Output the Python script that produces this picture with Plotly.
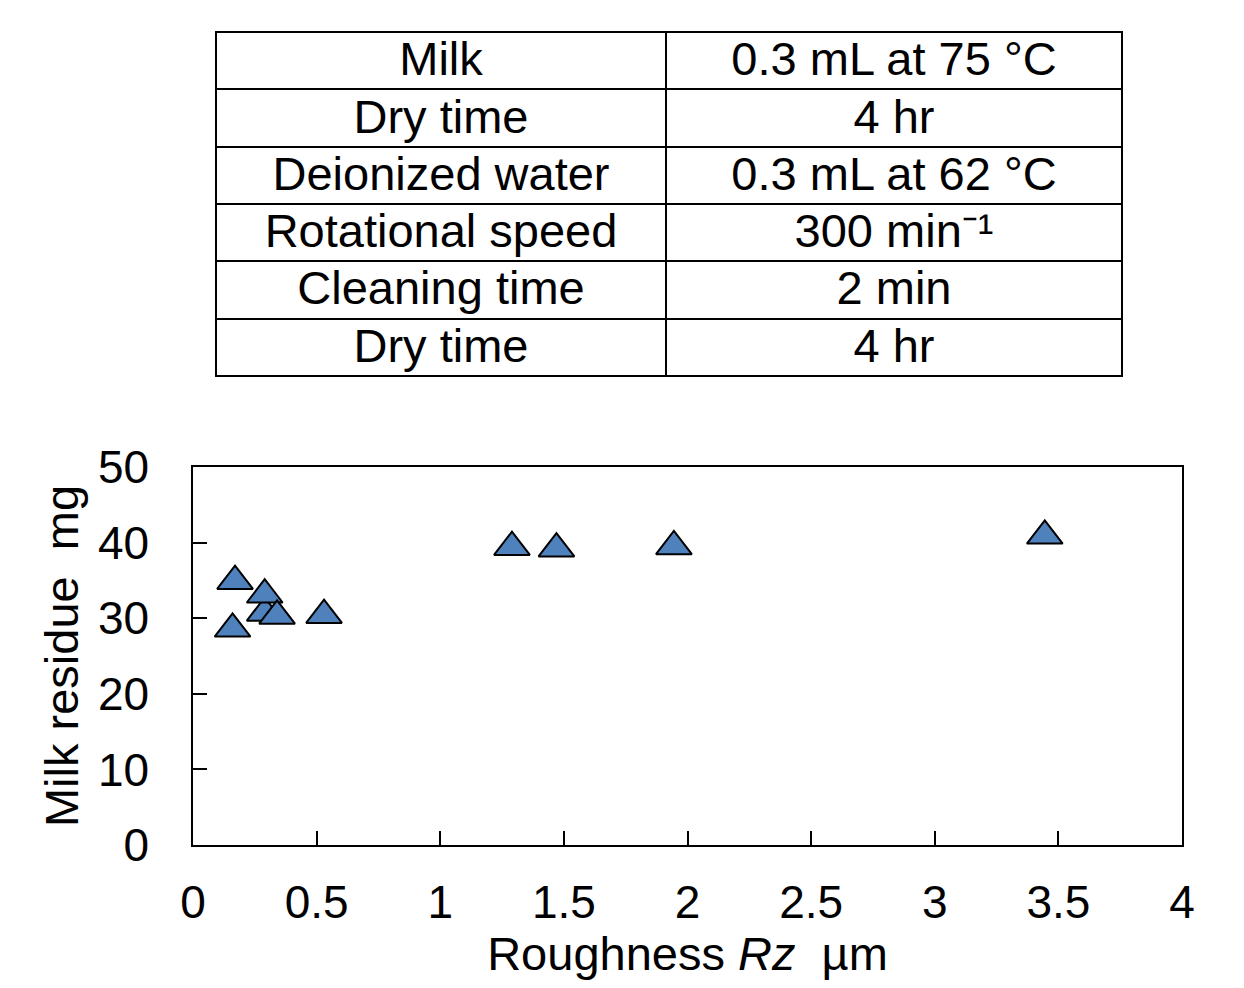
import plotly.graph_objects as go

# ---- table content ----
param_names = ["Milk", "Dry time", "Deionized water", "Rotational speed", "Cleaning time", "Dry time"]
param_values = ["0.3 mL at 75 °C", "4 hr", "0.3 mL at 62 °C", "300 min\u207b\u00b9", "2 min", "4 hr"]

# ---- scatter data ----
roughness_rz = [0.16, 0.17, 0.29, 0.29, 0.34, 0.53, 1.29, 1.47, 1.945, 3.445]
milk_residue = [28.6, 34.9, 30.7, 33.1, 30.3, 30.4, 39.4, 39.2, 39.5, 40.9]

x_ticks = [0, 0.5, 1, 1.5, 2, 2.5, 3, 3.5, 4]
x_ticklabels = ["0", "0.5", "1", "1.5", "2", "2.5", "3", "3.5", "4"]
y_ticks = [0, 10, 20, 30, 40, 50]

# the page body has an 8 px margin, so the figure is 8 px smaller on each side
OFF = 8
W, H = 1244 - 2 * OFF, 988 - 2 * OFF
FONT = "Arial, Liberation Sans, sans-serif"

# plot area in window pixels
px_l, px_r, px_t, px_b = 193 - OFF, 1182 - OFF, 467 - OFF, 845 - OFF
tb_l, tb_r, tb_t, tb_b = 216 - OFF, 1122 - OFF, 32 - OFF, 380 - OFF

fig = go.Figure()

fig.add_trace(go.Table(
    domain=dict(x=[tb_l / W, tb_r / W], y=[1 - tb_b / H, 1 - tb_t / H]),
    columnwidth=[450, 456],
    header=dict(
        values=[param_names[0], param_values[0]],
        height=57.3,
        align="center",
        fill_color="white",
        line=dict(color="black", width=2),
        font=dict(family=FONT, size=47, color="black"),
    ),
    cells=dict(
        values=[param_names[1:], param_values[1:]],
        height=57.3,
        align="center",
        fill_color="white",
        line=dict(color="black", width=2),
        font=dict(family=FONT, size=47, color="black"),
    ),
))

fig.add_trace(go.Scatter(
    x=roughness_rz,
    y=milk_residue,
    mode="markers",
    marker=dict(symbol="triangle-up", size=31, color="#4F81BD",
                line=dict(color="black", width=2)),
    showlegend=False,
    hoverinfo="x+y",
))

dom_x = [px_l / W, px_r / W]
dom_y = [1 - px_b / H, 1 - px_t / H]

fig.update_layout(
    width=W, height=H,
    margin=dict(l=0, r=0, t=0, b=0, autoexpand=False),
    paper_bgcolor="white", plot_bgcolor="white",
    font=dict(family=FONT, size=46, color="black"),
    showlegend=False,
    xaxis=dict(
        domain=dom_x, range=[0, 4],
        tickmode="array", tickvals=x_ticks, ticktext=x_ticklabels,
        ticks="inside", ticklen=14, tickwidth=1.5, tickcolor="black",
        showline=True, linecolor="black", linewidth=2, mirror=True,
        showgrid=False, zeroline=False, automargin=False,
        ticklabelstandoff=16,
        tickfont=dict(size=46),
        title=dict(text="Roughness <i>Rz</i>\u00a0\u00a0µm", font=dict(size=47), standoff=12),
    ),
    yaxis=dict(
        domain=dom_y, range=[0, 50],
        tickmode="array", tickvals=y_ticks,
        ticks="inside", ticklen=14, tickwidth=1.5, tickcolor="black",
        showline=True, linecolor="black", linewidth=1.5, mirror=True,
        showgrid=False, zeroline=False, automargin=False,
        ticklabelstandoff=33,
        tickfont=dict(size=46),
        title=dict(text="Milk residue\u00a0\u00a0mg", font=dict(size=47), standoff=4),
    ),
)

fig.write_html("out.html")
